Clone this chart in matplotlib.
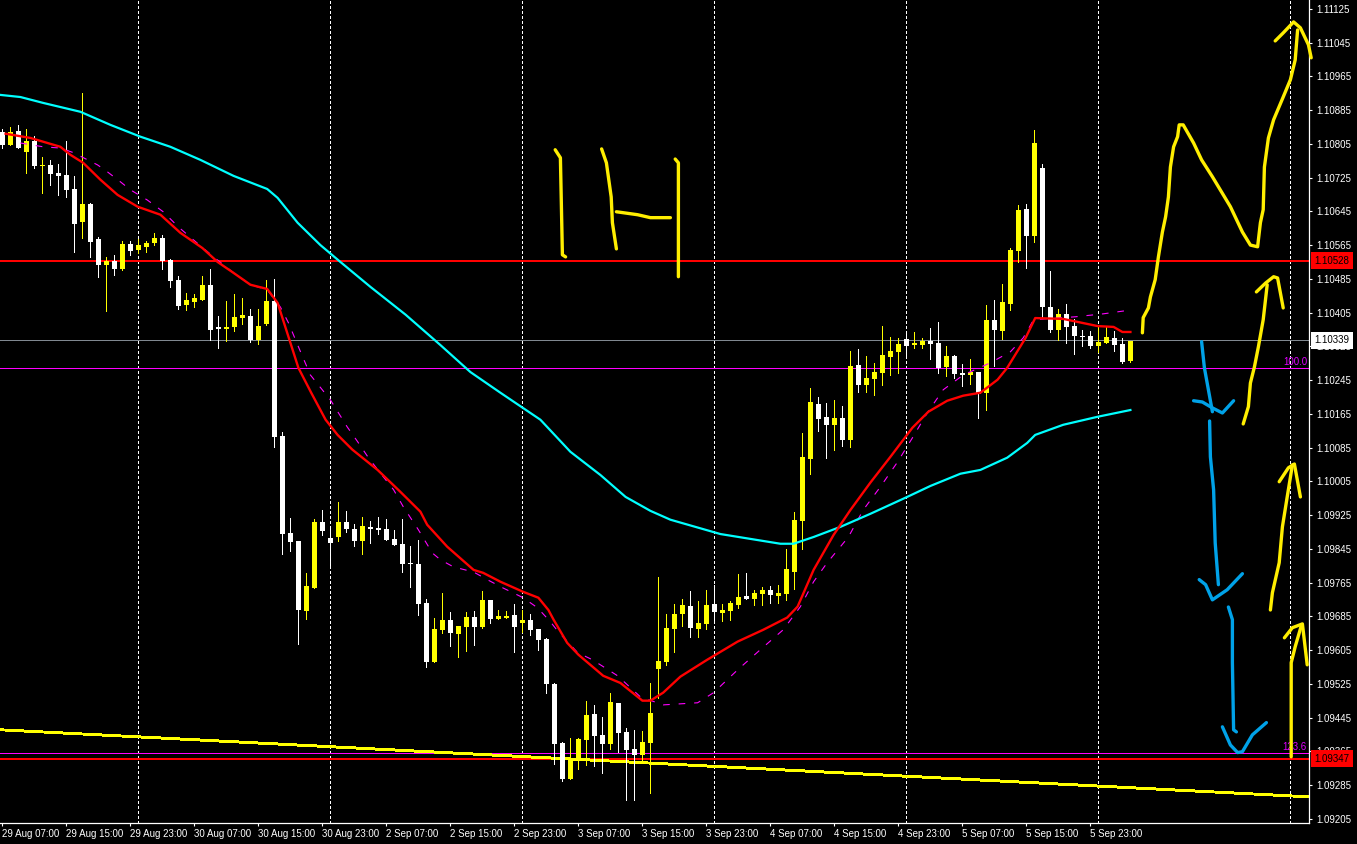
import matplotlib
matplotlib.use("Agg")
import matplotlib.pyplot as plt

# velas: maximo, techo del cuerpo, base del cuerpo, minimo
highs = [1.10840,1.10845,1.10850,1.10840,1.10824,1.10774,1.10767,1.10758,1.10812,1.10729,
         1.10926,1.10665,1.10584,1.10537,1.10542,1.10575,1.10575,1.10580,1.10575,1.10594,
         1.10589,1.10532,1.10492,1.10452,1.10450,1.10492,1.10508,1.10397,1.10432,1.10450,
         1.10440,1.10414,1.10414,1.10483,1.10485,1.10122,1.09918,1.09864,1.09788,1.09916,
         1.09937,1.09897,1.09956,1.09935,1.09904,1.09921,1.09911,1.09921,1.09916,1.09890,
         1.09916,1.09852,1.09866,1.09726,1.09682,1.09741,1.09695,1.09663,1.09695,1.09698,
         1.09746,1.09724,1.09700,1.09698,1.09715,1.09700,1.09691,1.09655,1.09634,1.09528,
         1.09387,1.09397,1.09397,1.09485,1.09475,1.09446,1.09502,1.09480,1.09421,1.09416,
         1.09414,1.09528,1.09778,1.09691,1.09715,1.09726,1.09746,1.09722,1.09748,1.09760,
         1.09715,1.09722,1.09786,1.09788,1.09748,1.09755,1.09757,1.09760,1.09845,1.09933,
         1.10120,1.10226,1.10205,1.10191,1.10198,1.10184,1.10314,1.10319,1.10302,1.10286,
         1.10373,1.10347,1.10345,1.10355,1.10359,1.10345,1.10369,1.10383,1.10326,1.10305,
         1.10283,1.10295,1.10264,1.10423,1.10435,1.10473,1.10558,1.10660,1.10663,1.10838,
         1.10758,1.10504,1.10414,1.10426,1.10390,1.10364,1.10362,1.10371,1.10373,1.10362,
         1.10345,1.10338]
body_top = [1.10833,1.10833,1.10836,1.10812,1.10812,1.10755,1.10755,1.10736,1.10732,1.10698,
            1.10663,1.10663,1.10580,1.10528,1.10528,1.10568,1.10568,1.10565,1.10570,1.10582,
            1.10582,1.10530,1.10483,1.10435,1.10440,1.10471,1.10471,1.10371,1.10371,1.10395,
            1.10399,1.10397,1.10373,1.10432,1.10432,1.10113,1.09883,1.09864,1.09757,1.09909,
            1.09909,1.09871,1.09909,1.09909,1.09892,1.09899,1.09897,1.09895,1.09892,1.09868,
            1.09857,1.09812,1.09809,1.09717,1.09655,1.09677,1.09677,1.09663,1.09684,1.09684,
            1.09724,1.09724,1.09686,1.09686,1.09689,1.09677,1.09677,1.09655,1.09632,1.09525,
            1.09385,1.09345,1.09395,1.09451,1.09454,1.09404,1.09482,1.09480,1.09411,1.09371,
            1.09387,1.09456,1.09579,1.09658,1.09691,1.09712,1.09710,1.09670,1.09712,1.09715,
            1.09700,1.09717,1.09731,1.09733,1.09741,1.09748,1.09748,1.09741,1.09798,1.09914,
            1.10063,1.10193,1.10189,1.10158,1.10155,1.10155,1.10279,1.10281,1.10250,1.10264,
            1.10305,1.10314,1.10331,1.10343,1.10333,1.10338,1.10338,1.10333,1.10302,1.10302,
            1.10262,1.10264,1.10264,1.10388,1.10388,1.10430,1.10554,1.10649,1.10651,1.10807,
            1.10748,1.10418,1.10402,1.10402,1.10373,1.10350,1.10350,1.10336,1.10347,1.10345,
            1.10331,1.10338]
body_bot = [1.10802,1.10802,1.10795,1.10786,1.10753,1.10753,1.10734,1.10729,1.10696,1.10615,
            1.10620,1.10573,1.10518,1.10518,1.10508,1.10508,1.10551,1.10554,1.10561,1.10570,
            1.10528,1.10480,1.10421,1.10423,1.10430,1.10435,1.10364,1.10366,1.10366,1.10371,
            1.10392,1.10340,1.10340,1.10378,1.10110,1.09880,1.09861,1.09700,1.09698,1.09752,
            1.09887,1.09859,1.09873,1.09892,1.09864,1.09864,1.09892,1.09890,1.09866,1.09854,
            1.09809,1.09809,1.09715,1.09577,1.09577,1.09653,1.09646,1.09644,1.09660,1.09660,
            1.09660,1.09679,1.09679,1.09682,1.09660,1.09670,1.09653,1.09629,1.09525,1.09383,
            1.09300,1.09300,1.09343,1.09392,1.09401,1.09383,1.09383,1.09409,1.09369,1.09357,
            1.09357,1.09385,1.09560,1.09577,1.09655,1.09691,1.09658,1.09655,1.09667,1.09695,
            1.09693,1.09698,1.09712,1.09726,1.09726,1.09738,1.09736,1.09733,1.09738,1.09790,
            1.09911,1.10058,1.10153,1.10139,1.10139,1.10103,1.10103,1.10234,1.10234,1.10248,
            1.10262,1.10300,1.10312,1.10326,1.10328,1.10328,1.10331,1.10274,1.10276,1.10260,
            1.10257,1.10257,1.10213,1.10215,1.10364,1.10362,1.10426,1.10551,1.10587,1.10587,
            1.10418,1.10364,1.10364,1.10371,1.10350,1.10347,1.10326,1.10326,1.10333,1.10328,
            1.10288,1.10291]
lows = [1.10795,1.10802,1.10795,1.10736,1.10748,1.10689,1.10708,1.10684,1.10679,1.10549,
        1.10582,1.10537,1.10490,1.10409,1.10494,1.10506,1.10542,1.10547,1.10549,1.10565,
        1.10508,1.10466,1.10414,1.10411,1.10418,1.10435,1.10340,1.10321,1.10338,1.10362,
        1.10378,1.10336,1.10331,1.10376,1.10087,1.09833,1.09840,1.09620,1.09679,1.09752,
        1.09878,1.09807,1.09864,1.09885,1.09852,1.09833,1.09859,1.09880,1.09866,1.09854,
        1.09790,1.09755,1.09689,1.09565,1.09577,1.09646,1.09615,1.09589,1.09603,1.09617,
        1.09658,1.09670,1.09679,1.09682,1.09601,1.09648,1.09641,1.09606,1.09502,1.09336,
        1.09295,1.09300,1.09324,1.09333,1.09331,1.09314,1.09371,1.09364,1.09250,1.09250,
        1.09338,1.09267,1.09492,1.09570,1.09601,1.09663,1.09636,1.09636,1.09655,1.09674,
        1.09674,1.09677,1.09705,1.09726,1.09712,1.09712,1.09717,1.09717,1.09724,1.09750,
        1.09845,1.10023,1.10125,1.10061,1.10080,1.10089,1.10087,1.10217,1.10217,1.10210,
        1.10234,1.10257,1.10262,1.10300,1.10321,1.10321,1.10295,1.10262,1.10255,1.10250,
        1.10232,1.10236,1.10155,1.10174,1.10279,1.10343,1.10411,1.10525,1.10511,1.10573,
        1.10395,1.10359,1.10340,1.10333,1.10307,1.10326,1.10321,1.10312,1.10333,1.10314,
        1.10286,1.10288]
# 1 = vela amarilla (sube), 0 = vela blanca (baja)
bull = [0,1,0,1,0,1,0,0,0,0,1,0,0,1,0,1,0,1,1,1,0,0,0,1,1,1,0,0,1,1,1,0,1,1,0,0,0,0,1,1,
        0,0,1,0,0,1,0,0,0,0,0,0,0,0,1,1,0,1,1,0,1,0,1,1,0,1,0,0,0,0,0,1,1,1,0,0,1,0,0,0,
        1,1,1,1,1,1,0,1,1,0,1,1,1,0,1,1,0,1,1,1,1,1,0,0,1,0,1,0,1,1,1,1,1,0,1,1,0,0,1,0,
        0,1,0,1,0,1,1,1,0,1,0,0,1,0,0,0,0,1,1,0,0,1]

# medias moviles (barra, precio)
red_bars = [0.4,3.5,7.25,8.5,10.1,12.25,14.4,16.9,19.75,22.25,25,26.9,28.9,31,33.1,34.4,35.6,37,38.6,40.4,
            41.9,43.75,46.9,49.75,52.25,53.1,55.6,58.9,60.1,62.25,65.1,67,68.25,68.9,70.6,72,75.1,77.25,80,81,
            82.6,84.75,88.1,91.9,95.1,98.1,99.4,101.4,103.9,106,108.5,111,113.75,115.75,118.1,120.1,122.25,124.4,125.6,127.9,
            129.1,132.6,136.9,138.9,140,141]
red_ma = [1.10829,1.10819,1.10798,1.10779,1.10760,1.10720,1.10684,1.10656,1.10637,1.10594,1.10558,1.10525,1.10499,1.10471,1.10461,1.10428,1.10357,1.10274,1.10215,1.10151,
          1.10115,1.10080,1.10032,1.09980,1.09933,1.09902,1.09850,1.09795,1.09788,1.09767,1.09743,1.09729,1.09700,1.09677,1.09622,1.09594,1.09544,1.09527,1.09485,1.09485,
          1.09504,1.09542,1.09582,1.09625,1.09653,1.09682,1.09708,1.09795,1.09878,1.09937,1.10002,1.10063,1.10132,1.10170,1.10196,1.10208,1.10215,1.10246,1.10274,1.10345,
          1.10392,1.10390,1.10373,1.10371,1.10359,1.10359]
cyan_bars = [-0.25,2.25,5.1,9.75,13.5,17.25,21,24.75,28.9,33.1,34.4,36.9,39.75,42.25,46,50.4,54.75,58.5,62.25,67.25,71,74.75,77.9,81,83.5,
             89.75,97.25,98.9,101.4,104.75,108.5,113.1,116,119.75,122.25,125.6,128.1,129.1,132.6,136.9,141]
cyan_ma = [1.10921,1.10916,1.10902,1.10881,1.10850,1.10822,1.10798,1.10767,1.10729,1.10698,1.10677,1.10618,1.10565,1.10525,1.10466,1.10400,1.10328,1.10264,1.10215,1.10151,1.10075,1.10020,1.09968,1.09935,1.09914,
           1.09880,1.09857,1.09857,1.09873,1.09897,1.09928,1.09968,1.09994,1.10023,1.10032,1.10061,1.10096,1.10115,1.10139,1.10158,1.10174]
mag_bars = [2.25,5.1,7.25,8.9,11.9,13.1,14.75,16,18.1,20.1,22,23.9,26.4,28.9,31,33.1,34.75,35.75,37,38.5,
            41,43.1,44.4,45.75,47.6,48.9,50.1,52,52.6,53.75,54.75,56.4,58.9,60.6,62.6,65.1,66.9,68.5,69.5,71.9,
            73.75,76.9,79.75,82.6,86.9,88.9,91.9,94.75,97.6,99.75,101.4,103.1,105.75,107.6,109.75,111.9,113.75,115.6,117.6,120.1,
            123.5,126,127.6,128.9,134.1,137.6,141]
mag_ma = [1.10807,1.10798,1.10795,1.10784,1.10755,1.10739,1.10715,1.10696,1.10672,1.10644,1.10608,1.10577,1.10537,1.10499,1.10471,1.10459,1.10418,1.10381,1.10324,1.10257,
          1.10198,1.10134,1.10099,1.10061,1.10016,1.09985,1.09945,1.09890,1.09871,1.09835,1.09819,1.09802,1.09790,1.09772,1.09752,1.09729,1.09705,1.09672,1.09648,1.09599,
          1.09582,1.09544,1.09494,1.09475,1.09480,1.09504,1.09558,1.09606,1.09653,1.09708,1.09767,1.09812,1.09873,1.09937,1.09992,1.10051,1.10108,1.10167,1.10222,1.10257,
          1.10286,1.10312,1.10345,1.10388,1.10395,1.10402,1.10411]

# trazos a mano (barra, precio)
yellow_strokes = [
    ([142.5,142.6,143.25,143.5,144.1,144.5,145,145.4,145.75,146,146.4,146.9,147.1,147.6,148.9,149.9,151.25,153.5,155,156,156.9,157.25,157.6,157.75,158.25,158.9,160.1,161,161.6,161.9],
     [1.10357,1.10393,1.10416,1.10442,1.10483,1.10537,1.10596,1.10632,1.10679,1.10750,1.10798,1.10822,1.10850,1.10850,1.10807,1.10767,1.10727,1.10656,1.10596,1.10565,1.10561,1.10618,1.10649,1.10750,1.10819,1.10862,1.10916,1.10957,1.11004,1.11075]),
    ([159.1,160.1,161.4,162.25,163.25,163.6], [1.11049,1.11068,1.11094,1.11080,1.11040,1.11009]),
    ([155.1,155.75,156,156.5,157,157.6,158.1], [1.10141,1.10182,1.10238,1.10276,1.10324,1.10388,1.10471]),
    ([156.75,157.9,158.9,159.4,160.1], [1.10454,1.10475,1.10490,1.10487,1.10416]),
    ([158.5,158.75,159.6,160,160.6,161.25], [1.09700,1.09741,1.09812,1.09897,1.09968,1.10044]),
    ([159.6,160.75,161.5,162.25], [1.10004,1.10037,1.10046,1.09968]),
    ([161.1,161.1,161.6,162.4], [1.09352,1.09575,1.09613,1.09665]),
    ([160.25,161.25,162.5,163.1], [1.09634,1.09658,1.09667,1.09570]),
    ([69.1,69.75,70,70.4], [1.10791,1.10772,1.10542,1.10537]),
    ([74.9,75.5,76.1,76.25,76.75], [1.10793,1.10760,1.10679,1.10618,1.10556]),
    ([76.75,79.4,81,83.5], [1.10644,1.10637,1.10630,1.10630]),
    ([84.1,84.5,84.5], [1.10769,1.10760,1.10490]),
]
blue_strokes = [
    ([149.9,150.25,151.25], [1.10336,1.10274,1.10170]),
    ([148.9,150,151.25,152.5,153.9], [1.10196,1.10193,1.10179,1.10167,1.10196]),
    ([150.9,151,151.4,151.6,152], [1.10148,1.10063,1.09985,1.09859,1.09760]),
    ([149.6,150.4,151.25,153.1,155], [1.09772,1.09760,1.09724,1.09748,1.09786]),
    ([153.25,153.75,153.75,153.9,154.25], [1.09707,1.09677,1.09575,1.09416,1.09411]),
    ([152.5,153.5,154.4,155,156.25,158], [1.09423,1.09380,1.09362,1.09364,1.09404,1.09433]),
]

yticks = [1.11125,1.11045,1.10965,1.10885,1.10805,1.10725,1.10645,1.10565,1.10485,1.10405,1.10325,
          1.10245,1.10165,1.10085,1.10005,1.09925,1.09845,1.09765,1.09685,1.09605,1.09525,1.09445,
          1.09365,1.09285,1.09205]
xtick_labels = ["29 Aug 07:00","29 Aug 15:00","29 Aug 23:00","30 Aug 07:00","30 Aug 15:00","30 Aug 23:00",
                "2 Sep 07:00","2 Sep 15:00","2 Sep 23:00","3 Sep 07:00","3 Sep 15:00","3 Sep 23:00",
                "4 Sep 07:00","4 Sep 15:00","4 Sep 23:00","5 Sep 07:00","5 Sep 15:00","5 Sep 23:00"]
day_lines = [17,41,65,89,113,137,161]

bid = 1.10339
res_level = 1.10528
sup_level = 1.09347
fib_100 = 1.10273
fib_123 = 1.09362
trend_bars = [-0.3,163.325]
trend_prices = [1.09416,1.09257]

YELLOW = "#FFFF00"
INK = "#FFEE00"
BLUE = "#00A2E8"

plt.rcParams["font.family"] = ["Liberation Sans", "DejaVu Sans"]
fig = plt.figure(figsize=(13.57, 8.44), dpi=100, facecolor="black")
ax = fig.add_axes([0, 21/844, 1309/1357, 823/844], facecolor="black")
ax.set_xlim(-0.3, 163.325)
ax.set_ylim(1.09195, 1.11146)

for b in day_lines:
    ax.axvline(b, color="white", lw=0.72, ls=(0, (2.5, 2.5)), zorder=1, antialiased=False)

ax.axhline(bid, color="#808890", lw=0.72, zorder=1.5, snap=True)
ax.axhline(fib_100, color="#FF00FF", lw=0.72, zorder=1.5, snap=True)
ax.axhline(fib_123, color="#FF00FF", lw=0.72, zorder=1.5, snap=True)
ax.axhline(res_level, color="red", lw=1.44, zorder=1.5, snap=True)
ax.axhline(sup_level, color="red", lw=1.44, zorder=1.5, snap=True)
ax.plot(trend_bars, trend_prices, color=YELLOW, lw=1.4, zorder=1.6, antialiased=False)

# velas
for i in range(len(highs)):
    col = YELLOW if bull[i] else "white"
    ax.vlines(i, lows[i], highs[i], color=col, lw=0.72, zorder=2, antialiased=False)
    ax.bar(i, body_top[i] - body_bot[i], bottom=body_bot[i], width=0.625, color=col,
           linewidth=0, zorder=2.1, antialiased=False)

ax.plot(mag_bars, mag_ma, color="#FF00FF", lw=0.8, ls=(0, (6, 8)), zorder=3)
ax.plot(cyan_bars, cyan_ma, color="#00FFFF", lw=1.6, zorder=3.1)
ax.plot(red_bars, red_ma, color="red", lw=1.7, zorder=3.2)

for xs, ys in yellow_strokes:
    ax.plot(xs, ys, color=INK, lw=2.4, solid_capstyle="round", zorder=4, clip_on=False)
for xs, ys in blue_strokes:
    ax.plot(xs, ys, color=BLUE, lw=2.4, solid_capstyle="round", zorder=4, clip_on=False)

# ejes
for s in ["top", "left"]:
    ax.spines[s].set_visible(False)
for s in ["right", "bottom"]:
    ax.spines[s].set_color("white")
    ax.spines[s].set_linewidth(0.9)
ax.yaxis.tick_right()
ax.set_yticks(yticks)
ax.set_yticklabels([f"{v:.5f}" for v in yticks])
ax.set_xticks(range(0, 8 * len(xtick_labels), 8))
ax.set_xticklabels(xtick_labels, ha="left")
ax.tick_params(axis="y", colors="white", length=2.5, width=0.8, pad=3, labelsize=7)
ax.tick_params(axis="x", colors="white", length=2.5, width=0.8, pad=1.5, labelsize=7)

ytr = ax.get_yaxis_transform()
ax.text(0.9985, fib_100 + 0.00002, "100.0", color="#E000FF", fontsize=7, ha="right", va="bottom", transform=ytr, zorder=5)
ax.text(0.9985, fib_123 + 0.00002, "123.6", color="#E000FF", fontsize=7, ha="right", va="bottom", transform=ytr, zorder=3.9)

boxes = [(bid, "1.10339", "white"), (res_level, "1.10528", "red"), (sup_level, "1.09347", "red")]
for level, txt, bg in boxes:
    ax.text(1.0043, level, txt, color="black", fontsize=7, ha="left", va="center", transform=ytr,
            clip_on=False, zorder=6,
            bbox=dict(boxstyle="square,pad=0.35", facecolor=bg, edgecolor="none"))

fig.savefig("out.png", dpi=100, facecolor="black")
